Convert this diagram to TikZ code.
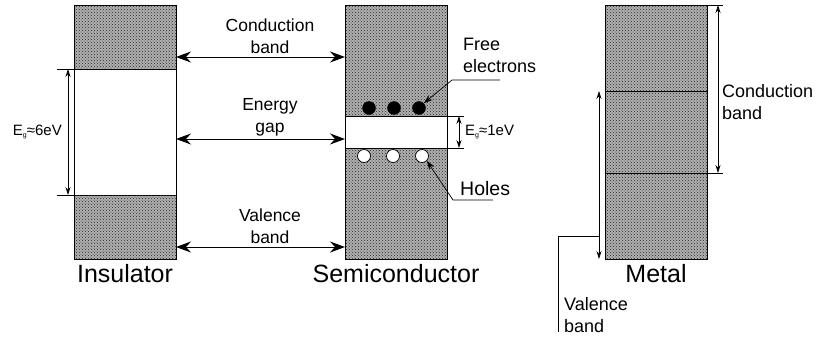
\documentclass[tikz,border=0pt]{standalone}
\usepackage{fontspec}
\setmainfont{Liberation Sans}
\usetikzlibrary{positioning, arrows.meta, patterns}
\newcommand{\egsub}{\raisebox{-1.5pt}{\fontsize{7}{7}\selectfont g}}
\tikzset{
  bandbox/.style  = {draw, line width=0.9pt, fill=gray!62,
                     postaction={pattern=crosshatch dots, pattern color=black!85},
                     minimum width=102pt, inner sep=0pt, outer sep=0pt},
  gapbox/.style   = {draw, line width=0.9pt, fill=white,
                     minimum width=102pt, inner sep=0pt, outer sep=0pt},
  bandlbl/.style  = {font=\fontsize{17.5}{22}\selectfont, align=center, inner sep=3pt},
  sidelbl/.style  = {font=\fontsize{18}{22}\selectfont, align=left, inner sep=0pt},
  eglbl/.style    = {font=\fontsize{15}{16}\selectfont, inner sep=0pt},
  caplbl/.style   = {font=\fontsize{25}{28}\selectfont, inner sep=0pt},
  biarr/.style    = {{Stealth[length=15pt, width=11pt, inset=5pt]}-{Stealth[length=15pt, width=11pt, inset=5pt]},
                     line width=1pt},
  dimarr/.style   = {{Stealth[length=8pt, width=5pt]}-{Stealth[length=8pt, width=5pt]}, line width=0.7pt},
  leadarr/.style  = {-{Stealth[length=9pt, width=6pt]}, line width=0.7pt},
  electron/.style = {circle, draw, fill=black, minimum size=13pt, inner sep=0pt},
  hole/.style     = {circle, draw, line width=0.7pt, fill=white, minimum size=13pt, inner sep=0pt},
}
\begin{document}
\begin{tikzpicture}[x=1pt, y=-1pt]
  \useasboundingbox (0,0) rectangle (819,341);
  % insulator
  \node[bandbox, minimum height=64pt]  (icb)  at (125,37)  {};
  \node[gapbox,  minimum height=126pt] (igap) at (125,132) {};
  \node[bandbox, minimum height=64pt]  (ivb)  at (125,227) {};
  \node[caplbl, below=5pt of ivb] (ins) {Insulator};
  \draw[line width=0.7pt] (igap.north west) -- ++(-17,0);
  \draw[line width=0.7pt] (igap.south west) -- ++(-17,0);
  \draw[dimarr] ([xshift=-6pt]igap.north west) -- ([xshift=-6pt]igap.south west);
  \node[eglbl, left=12pt of igap.west] (eg6) {E\egsub≈6eV};
  % semiconductor
  \node[bandbox, minimum height=111pt] (scb)  at (396,60.5)  {};
  \node[gapbox,  minimum height=32pt]  (sgap) at (396,132)   {};
  \node[bandbox, minimum height=111pt] (svb)  at (396,203.5) {};
  \node[caplbl, below=5pt of svb] (semi) {Semiconductor};
  \foreach \x [count=\i] in {369,394,419}
    \node[electron] (e\i) at (\x,108) {};
  \foreach \x [count=\i] in {364,393,422}
    \node[hole] (h\i) at (\x,156) {};
  \draw[line width=0.7pt] (sgap.north east) -- ++(17,0);
  \draw[line width=0.7pt] (sgap.south east) -- ++(17,0);
  \draw[dimarr] ([xshift=12pt]sgap.north east) -- ([xshift=12pt]sgap.south east);
  \node[eglbl, right=18pt of sgap.east] (eg1) {E\egsub≈1eV};
  % labels between insulator and semiconductor
  \node[bandlbl, anchor=south] (cbl) at (270,57)  {Conduction\\band};
  \node[bandlbl, anchor=south] (gpl) at (270,139) {Energy\\gap};
  \node[bandlbl, anchor=south] (vbl) at (270,247) {Valence\\band};
  \draw[biarr] (cbl.south -| icb.east) -- (cbl.south -| scb.west);
  \draw[biarr] (gpl.south -| igap.east) -- (gpl.south -| sgap.west);
  \draw[biarr] (vbl.south -| ivb.east) -- (vbl.south -| svb.west);
  % free electrons and holes
  \node[sidelbl, anchor=base west] (fel) at (463,72) {Free\\electrons};
  \coordinate (felend) at (500,80);
  \coordinate (felknee) at (452,80);
  \draw[leadarr] (felend) -- (felknee) -- (e3.north east);
  \node[sidelbl, font=\fontsize{19.5}{22}\selectfont, anchor=base west] (hol) at (460,195) {Holes};
  \coordinate (holend) at (493,200);
  \coordinate (holknee) at (453,200);
  \draw[leadarr] (holend) -- (holknee) -- (h3.south east);
  % metal
  \node[bandbox, minimum height=86pt] (mtop) at (656,48)  {};
  \node[bandbox, minimum height=82pt] (mmid) at (656,132) {};
  \node[bandbox, minimum height=86pt] (mbot) at (656,216) {};
  \node[caplbl, below=5pt of mbot] (met) {Metal};
  \draw[line width=0.7pt] (mtop.north east) -- ++(16,0);
  \draw[line width=0.7pt] (mmid.south east) -- ++(16,0);
  \draw[dimarr] ([xshift=11pt]mtop.north east) -- ([xshift=11pt]mmid.south east);
  \node[sidelbl, anchor=west] (mcbl) at (722,102) {Conduction\\band};
  \draw[dimarr] ([xshift=-6pt]mmid.north west) -- ([xshift=-6pt]mbot.south west);
  \coordinate (mvbarr) at (599,236);
  \coordinate (mvbknee) at (558,236);
  \coordinate (mvbend) at (558,332);
  \draw[line width=0.7pt] (mvbarr) -- (mvbknee) -- (mvbend);
  \node[sidelbl, anchor=north west] (mvbl) at (564,297) {Valence\\band};
\end{tikzpicture}
\end{document}
